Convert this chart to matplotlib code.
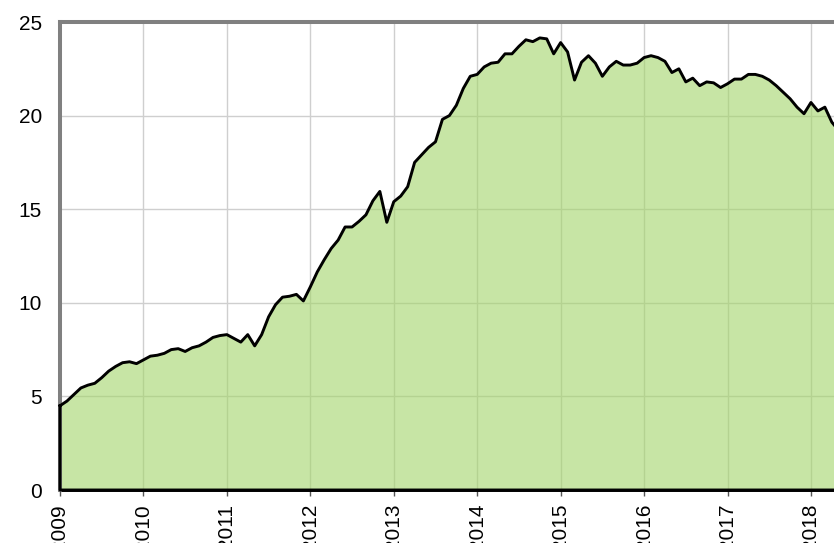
import numpy as np
import matplotlib
matplotlib.use("Agg")
import matplotlib.pyplot as plt

# monthly values, starting January 2009
values = [
    4.5, 4.75, 5.1, 5.45, 5.6, 5.7, 6.0, 6.35, 6.6, 6.8, 6.85, 6.75,   # 2009
    6.95, 7.15, 7.2, 7.3, 7.5, 7.55, 7.4, 7.6, 7.7, 7.9, 8.15, 8.25,   # 2010
    8.3, 8.1, 7.9, 8.3, 7.7, 8.3, 9.25, 9.9, 10.3, 10.35, 10.45, 10.1,  # 2011
    10.85, 11.65, 12.3, 12.9, 13.35, 14.05, 14.05, 14.35, 14.7, 15.45, 15.95, 14.3,  # 2012
    15.4, 15.7, 16.2, 17.5, 17.9, 18.3, 18.6, 19.8, 20.0, 20.55, 21.45, 22.1,  # 2013
    22.2, 22.6, 22.8, 22.85, 23.3, 23.3, 23.7, 24.05, 23.95, 24.15, 24.1, 23.3,  # 2014
    23.9, 23.4, 21.9, 22.85, 23.2, 22.8, 22.1, 22.6, 22.9, 22.7, 22.7, 22.8,  # 2015
    23.1, 23.2, 23.1, 22.9, 22.3, 22.5, 21.8, 22.0, 21.6, 21.8, 21.75, 21.5,  # 2016
    21.7, 21.95, 21.95, 22.2, 22.2, 22.1, 21.9, 21.6, 21.25, 20.9, 20.45, 20.1,  # 2017
    20.7, 20.25, 20.45, 19.65, 19.2,  # 2018
]
year_ticks = list(range(2009, 2019))
y_ticks = [0, 5, 10, 15, 20, 25]

x = 2009 + np.arange(len(values)) / 12.0
y = np.array(values)

plt.rcParams['font.family'] = ['Liberation Sans', 'DejaVu Sans']

fig = plt.figure(figsize=(8.34, 5.43), dpi=100)
ax = fig.add_axes([60 / 834, 53 / 543, 774 / 834, 468 / 543])

# translucent area over the grid, so grid lines show through a little darker
ax.fill_between(x, 0, y, color='#a3d569', alpha=0.6, linewidth=0, zorder=2)
ox = np.concatenate([x, [x[-1], x[0], x[0]]])
oy = np.concatenate([y, [0, 0, y[0]]])
ax.plot(ox, oy, color='black', linewidth=2.1, zorder=4, clip_on=False,
        solid_joinstyle='round')

ax.set_xlim(2009, 2009 + 774 / 83.44)
ax.set_ylim(0, 25)
ax.set_xticks(year_ticks)
ax.set_xticklabels([str(v) for v in year_ticks], rotation=90, fontsize=15)
ax.set_yticks(y_ticks)
ax.set_yticklabels([str(v) for v in y_ticks], fontsize=15)

ax.set_axisbelow(True)
ax.grid(True, color='#cfcfcf', linewidth=1.0)

ax.tick_params(axis='y', length=0, pad=13)
ax.tick_params(axis='x', length=4, width=1.0, color='#555555', pad=6, direction='out')

for side in ['top', 'left']:
    ax.spines[side].set_color('#808080')
    ax.spines[side].set_linewidth(2.9)
    ax.spines[side].set_zorder(3)
ax.spines['right'].set_visible(False)
ax.spines['bottom'].set_color('black')
ax.spines['bottom'].set_linewidth(2.1)

fig.savefig('out.png', dpi=100)
